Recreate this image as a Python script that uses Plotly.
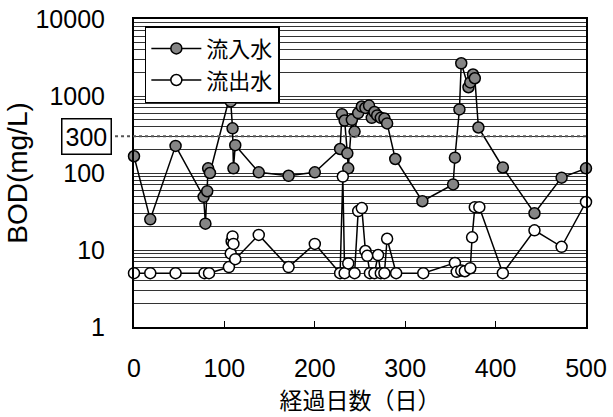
import math
import plotly.graph_objects as go

# ---- data ----
inf_day = [0, 18, 46, 77, 79, 81, 82, 84, 106, 107, 109, 110, 112, 138, 171, 200,
           228, 230, 233, 236, 237, 241, 244, 248, 252, 256, 260, 263, 266, 269,
           273, 277, 280, 289, 319, 353, 355, 360, 362, 370, 372, 375, 377, 381,
           408, 443, 473, 500]
inf_bod = [165, 25, 225, 49, 22, 58, 115, 100, 1000, 850, 380, 115, 230, 102, 92, 102,
           205, 580, 480, 180, 115, 490, 345, 600, 730, 700, 750, 520, 620, 560,
           520, 510, 440, 152, 43, 71, 158, 670, 2660, 1300, 1500, 1900, 1700, 390,
           118, 30, 87, 115]

eff_day = [0, 18, 46, 78, 83, 105, 107, 108, 109, 110, 112, 138, 171, 200, 228, 231,
           233, 237, 244, 248, 252, 256, 258, 261, 266, 270, 273, 277, 280, 290, 320,
           355, 357, 362, 366, 372, 374, 377, 382, 408, 443, 473, 500]
eff_bod = [5, 5, 5, 5, 5, 6, 9, 13, 15, 12, 7.6, 15.7, 6, 12, 5, 90,
           5, 6.7, 5, 32, 35, 9.7, 8.4, 5, 5, 8.6, 5, 5, 14, 5, 5,
           6.8, 5.2, 5.4, 5.3, 5.8, 14.6, 36, 36, 5, 18, 11, 42]

x_ticks = [0, 100, 200, 300, 400, 500]
y_ticks = [1, 10, 100, 1000, 10000]
y_ticktext = ["1", "10", "100", "1000", "10000"]
limit_value = 300
limit_label = "300"

series_names = ["流入水", "流出水"]
x_title = "経過日数（日）"
y_title = "BOD(mg/L)"

# minor grid positions (2..9 within each decade)
minor_vals = []
for dec in [1, 10, 100, 1000]:
    for d in range(2, 10):
        minor_vals.append(d * dec)

FONT = "Liberation Sans, Arial, Noto Sans CJK JP, sans-serif"
CJK = "Noto Sans CJK JP, sans-serif"

fig = go.Figure()
fig.add_trace(go.Scatter(
    x=inf_day, y=inf_bod, mode="lines+markers", name=series_names[0],
    line=dict(color="black", width=1.5),
    marker=dict(size=11, color="#858585", line=dict(color="black", width=1.5)),
    cliponaxis=False,
))
fig.add_trace(go.Scatter(
    x=eff_day, y=eff_bod, mode="lines+markers", name=series_names[1],
    line=dict(color="black", width=1.5),
    marker=dict(size=11, color="white", line=dict(color="black", width=1.5)),
    cliponaxis=False,
))

# 300 reference line extending to the boxed label
fig.add_shape(type="line", xref="paper", yref="y", x0=-0.042, x1=1,
              y0=limit_value, y1=limit_value,
              line=dict(color="#555555", width=2, dash="dot"), layer="above")
fig.add_annotation(xref="paper", yref="y", x=-0.104, y=math.log10(limit_value),
                   text=limit_label, showarrow=False,
                   font=dict(family=FONT, size=25, color="black"),
                   bordercolor="black", borderwidth=1.5, borderpad=3,
                   bgcolor="white", xanchor="center", yanchor="middle")

fig.update_layout(
    template="none",
    width=613, height=417,
    margin=dict(l=134, r=27, t=19, b=90, autoexpand=False),
    paper_bgcolor="white", plot_bgcolor="white",
    font=dict(family=FONT, color="black"),
    showlegend=True,
    legend=dict(
        x=0.024, y=0.977, xanchor="left", yanchor="top",
        bgcolor="white", bordercolor="black", borderwidth=1.5,
        font=dict(family="Liberation Sans, Noto Sans CJK JP, sans-serif", size=22, color="black"),
        itemwidth=50, tracegroupgap=0,
    ),
    xaxis=dict(
        automargin=False,
        range=[0, 500], tickvals=x_ticks,
        ticks="inside", ticklen=6, tickwidth=1, tickcolor="black",
        showgrid=False, zeroline=False,
        showline=True, linecolor="black", linewidth=2, mirror=True,
        tickfont=dict(family=FONT, size=25, color="black"),
        ticklabelstandoff=18,
        title=dict(text=x_title, font=dict(family=CJK, size=23, color="black"), standoff=3),
    ),
    yaxis=dict(
        automargin=False,
        type="log", range=[0, 4], tickvals=y_ticks, ticktext=y_ticktext,
        ticks="", showgrid=True, gridcolor="#333333", gridwidth=1,
        minor=dict(tickvals=minor_vals, showgrid=True, gridcolor="#333333", gridwidth=1, ticks=""),
        zeroline=False,
        showline=True, linecolor="black", linewidth=2, mirror=True,
        tickfont=dict(family=FONT, size=25, color="black"),
        ticklabelstandoff=22,
        title=dict(text=y_title, font=dict(family=FONT, size=28, color="black"), standoff=0),
    ),
)

fig.write_html("out.html", config={"displayModeBar": False},
               post_script="document.body.style.margin='0px';")
